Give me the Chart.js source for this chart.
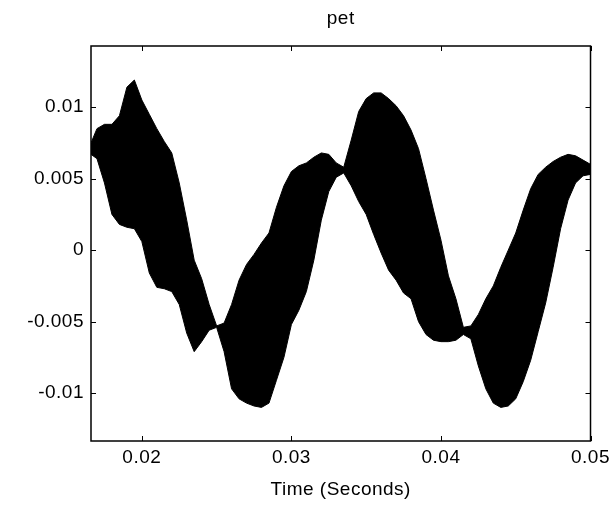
<!DOCTYPE html>
<html>
<head>
<meta charset="utf-8">
<title>pet</title>
<script src="https://cdn.jsdelivr.net/npm/chart.js@4.4.1/dist/chart.umd.min.js"></script>
<style>
  body { margin: 0; background: #ffffff; }
  #petChart { display: block; }
</style>
</head>
<body>
<canvas id="petChart" width="614" height="508"></canvas>
<script>
// Sample times (seconds) where the envelope was read
const timeS = [
  0.0166, 0.0170, 0.0175, 0.0180, 0.0185, 0.0190, 0.0195, 0.0200, 0.0205, 0.0210,
  0.0215, 0.0220, 0.0225, 0.0230, 0.0235, 0.0240, 0.0245, 0.0250, 0.0255, 0.0260,
  0.0265, 0.0270, 0.0275, 0.0280, 0.0285, 0.0290, 0.0295, 0.0300, 0.0305, 0.0310,
  0.0315, 0.0320, 0.0325, 0.0330, 0.0335, 0.0340, 0.0345, 0.0350, 0.0355, 0.0360,
  0.0365, 0.0370, 0.0375, 0.0380, 0.0385, 0.0390, 0.0395, 0.0400, 0.0405, 0.0410,
  0.0415, 0.0420, 0.0425, 0.0430, 0.0435, 0.0440, 0.0445, 0.0450, 0.0455, 0.0460,
  0.0465, 0.0470, 0.0475, 0.0480, 0.0485, 0.0490, 0.0495, 0.0500
];

// Upper envelope of the signal (peaks)
const upperEnv = [
  0.0075, 0.0085, 0.0088, 0.0088, 0.0094, 0.0114, 0.0119, 0.0105, 0.0095, 0.0085,
  0.0076, 0.0068, 0.0047, 0.0021, -0.0007, -0.0020, -0.0038, -0.0053, -0.0051, -0.0038,
  -0.0021, -0.0010, -0.0003, 0.0005, 0.0012, 0.0030, 0.0045, 0.0055, 0.0059, 0.0061,
  0.0065, 0.0068, 0.0067, 0.0061, 0.0058, 0.0077, 0.0097, 0.0106, 0.0110, 0.0110,
  0.0106, 0.0101, 0.0094, 0.0084, 0.0071, 0.0050, 0.0028, 0.0007, -0.0018, -0.0034,
  -0.0054, -0.0053, -0.0045, -0.0034, -0.0025, -0.0012, 0.0000, 0.0012, 0.0028, 0.0043,
  0.0053, 0.0058, 0.0062, 0.0065, 0.0067, 0.0066, 0.0063, 0.0060
];

// Lower envelope of the signal (troughs)
const lowerEnv = [
  0.0067, 0.0064, 0.0047, 0.0025, 0.0018, 0.0016, 0.0015, 0.0006, -0.0016, -0.0026,
  -0.0027, -0.0029, -0.0038, -0.0058, -0.0071, -0.0064, -0.0056, -0.0054, -0.0071, -0.0097,
  -0.0104, -0.0107, -0.0109, -0.0110, -0.0107, -0.0091, -0.0075, -0.0052, -0.0042, -0.0029,
  -0.0007, 0.0021, 0.0041, 0.0051, 0.0054, 0.0045, 0.0034, 0.0025, 0.0011, -0.0002,
  -0.0014, -0.0021, -0.0030, -0.0034, -0.0050, -0.0059, -0.0063, -0.0064, -0.0064, -0.0063,
  -0.0059, -0.0062, -0.0081, -0.0097, -0.0107, -0.0110, -0.0109, -0.0104, -0.0092, -0.0077,
  -0.0057, -0.0037, -0.0012, 0.0015, 0.0035, 0.0047, 0.0052, 0.0053
];

// Tick values and their labels
const xTicks = [0.02, 0.03, 0.04, 0.05];
const xTickLabels = ['0.02', '0.03', '0.04', '0.05'];
const yTicks = [-0.01, -0.005, 0, 0.005, 0.01];
const yTickLabels = ['-0.01', '-0.005', '0', '0.005', '0.01'];

// Axis limits
const xMin = 0.0166;
const xMax = 0.05;
const yMin = -0.01335;
const yMax = 0.01428;

const titleText = 'pet';
const fontFamily = '"Liberation Sans", Arial, Helvetica, sans-serif';
const fontSize = 19;

// Function to zip times and values into points
function toPoints(values) {
  return values.map((v, i) => ({ x: timeS[i], y: v }));
}

// Function to replace the generated ticks with our own
function setTicks(values) {
  return scale => {
    scale.ticks = values.map(v => ({ value: v }));
  };
}

// Function to widen the letters a little, like the original export
const spacingPlugin = {
  id: 'spacingPlugin',
  beforeDraw(chart) {
    chart.ctx.letterSpacing = '0.5px';
  }
};

// Function to draw the box, the inward tick marks and the title
const boxPlugin = {
  id: 'boxPlugin',
  afterDraw(chart) {
    const { ctx, chartArea: a, scales } = chart;
    const len = 5;
    ctx.save();
    ctx.strokeStyle = '#000000';
    ctx.lineWidth = 1.5;
    ctx.strokeRect(a.left, a.top, a.right - a.left, a.bottom - a.top);
    ctx.lineWidth = 1;
    ctx.beginPath();
    xTicks.forEach(v => {
      const px = Math.round(scales.x.getPixelForValue(v)) + 0.5;
      ctx.moveTo(px, a.bottom); ctx.lineTo(px, a.bottom - len);
      ctx.moveTo(px, a.top); ctx.lineTo(px, a.top + len);
    });
    yTicks.forEach(v => {
      const py = Math.round(scales.y.getPixelForValue(v)) + 0.5;
      ctx.moveTo(a.left, py); ctx.lineTo(a.left + len, py);
      ctx.moveTo(a.right, py); ctx.lineTo(a.right - len, py);
    });
    ctx.stroke();

    ctx.fillStyle = '#000000';
    ctx.font = `${fontSize}px ${fontFamily}`;
    ctx.letterSpacing = '0.5px';
    ctx.textAlign = 'center';
    ctx.textBaseline = 'middle';
    ctx.fillText(titleText, (a.left + a.right) / 2, 19);
    ctx.restore();
  }
};

const config = {
  type: 'line',
  data: {
    datasets: [
      {
        label: 'upper',
        data: toPoints(upperEnv),
        borderColor: '#000000',
        backgroundColor: '#000000',
        borderWidth: 1,
        pointRadius: 0,
        tension: 0,
        fill: '+1'
      },
      {
        label: 'lower',
        data: toPoints(lowerEnv),
        borderColor: '#000000',
        backgroundColor: '#000000',
        borderWidth: 1,
        pointRadius: 0,
        tension: 0,
        fill: false
      }
    ]
  },
  options: {
    responsive: false,
    devicePixelRatio: 1,
    animation: false,
    events: [],
    layout: {
      padding: { left: 0, right: 23, top: 46, bottom: 0 }
    },
    plugins: {
      legend: { display: false },
      tooltip: { enabled: false },
      title: { display: false }
    },
    scales: {
      x: {
        type: 'linear',
        min: xMin,
        max: xMax,
        afterBuildTicks: setTicks(xTicks),
        afterFit: scale => { scale.height = 67; },
        grid: { display: false, drawTicks: false },
        border: { display: false },
        ticks: {
          color: '#000000',
          padding: 5,
          maxRotation: 0,
          font: { family: fontFamily, size: fontSize },
          callback: value => xTickLabels[xTicks.indexOf(value)]
        },
        title: {
          display: true,
          text: 'Time (Seconds)',
          color: '#000000',
          font: { family: fontFamily, size: fontSize },
          padding: { top: 0, bottom: 7 }
        }
      },
      y: {
        type: 'linear',
        min: yMin,
        max: yMax,
        afterBuildTicks: setTicks(yTicks),
        afterFit: scale => { scale.width = 91; },
        grid: { display: false, drawTicks: false },
        border: { display: false },
        ticks: {
          color: '#000000',
          padding: 7,
          font: { family: fontFamily, size: fontSize },
          callback: value => yTickLabels[yTicks.indexOf(value)]
        }
      }
    }
  },
  plugins: [spacingPlugin, boxPlugin]
};

const petChart = new Chart(document.getElementById('petChart'), config);
</script>
</body>
</html>
